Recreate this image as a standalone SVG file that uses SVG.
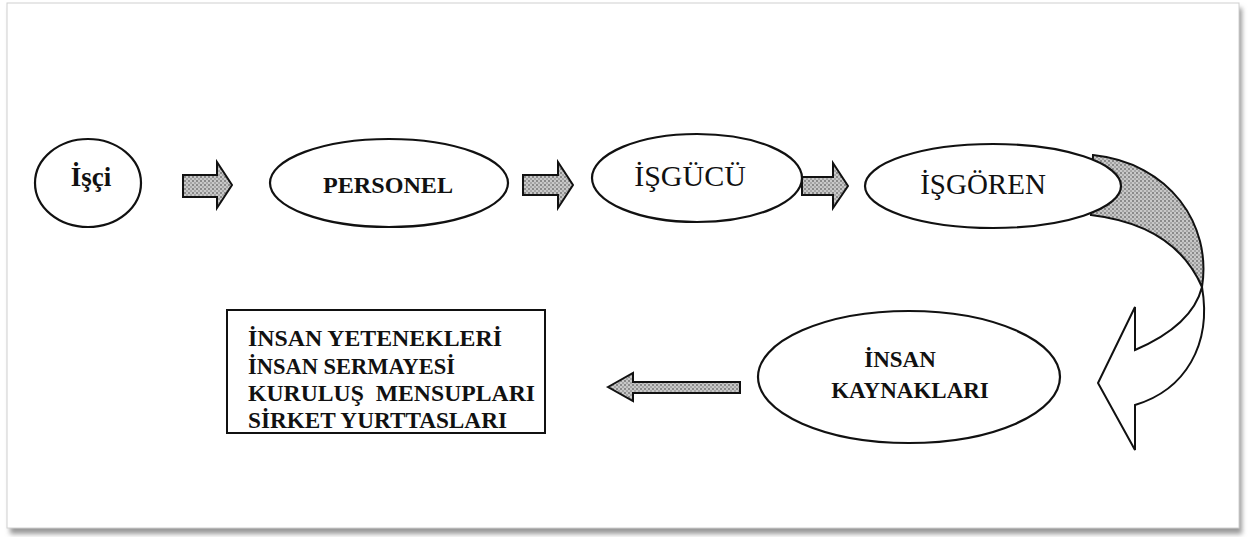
<svg xmlns="http://www.w3.org/2000/svg" width="1248" height="537" viewBox="0 0 1248 537">
<style>
.node{fill:#fff;stroke:#111;stroke-width:2.2}
.lbl{font-family:"Liberation Serif","Times New Roman",serif;fill:#111;text-anchor:middle}
.b{font-weight:bold}
.box{font-family:"Liberation Serif","Times New Roman",serif;font-weight:bold;fill:#111;font-size:23px}
.arr{fill:url(#stip);stroke:#111;stroke-width:2}
</style>
<defs>
<pattern id="stip" width="4" height="4" patternUnits="userSpaceOnUse">
<rect width="4" height="4" fill="#c8c8c8"/>
<rect width="2" height="2" fill="#8a8a8a"/>
<rect x="2" y="2" width="2" height="2" fill="#a5a5a5"/>
</pattern>
<filter id="sh" x="-2%" y="-2%" width="104%" height="106%">
<feGaussianBlur stdDeviation="2.5"/>
</filter>
</defs>
<rect width="1248" height="537" fill="#fff"/>
<rect x="10" y="8" width="1232" height="526" fill="#9a9a9a" filter="url(#sh)"/>
<rect x="7" y="3" width="1232" height="525" fill="#fff" stroke="#d0d0d0" stroke-width="1"/>

<g id="connectors">
<path class="arr" d="M183,175 L217,175 L217,162 L232,185 L217,208 L217,197 L183,197 Z"/>
<path class="arr" d="M523,175 L558,175 L558,162 L573,185 L558,208 L558,195 L523,195 Z"/>
<path class="arr" d="M802,177 L833,177 L833,163 L848,186 L833,208 L833,195 L802,195 Z"/>
<path class="arr" d="M1093,155 C1170,163 1212,225 1202,287 C1185,248 1150,222 1091,215 Z"/>
<path d="M1202,287 C1195,315 1170,335 1135,350 L1135,307 L1098,383 L1135,450 L1135,405 C1185,390 1212,345 1202,287 Z" fill="#fff" stroke="#111" stroke-width="2"/>
<path class="arr" d="M608,387 L633,373 L633,382 L740,382 L740,393 L633,393 L633,401 Z"/>
</g>

<g id="n-isci">
<ellipse class="node" cx="88" cy="183" rx="53" ry="44"/>
<text class="lbl b" x="91" y="186" font-size="27">İşçi</text>
</g>
<g id="n-personel">
<ellipse class="node" cx="389" cy="183" rx="119" ry="44"/>
<text class="lbl b" x="388" y="193" font-size="24" textLength="130" lengthAdjust="spacingAndGlyphs">PERSONEL</text>
</g>
<g id="n-isgucu">
<ellipse class="node" cx="697" cy="178" rx="105" ry="44"/>
<text class="lbl" x="690" y="186" font-size="30">İŞGÜCÜ</text>
</g>
<g id="n-isgoren">
<ellipse class="node" cx="993" cy="186" rx="128" ry="42"/>
<text class="lbl" x="983" y="194" font-size="29">İŞGÖREN</text>
</g>
<g id="n-insan-kaynaklari">
<ellipse class="node" cx="909" cy="377" rx="151" ry="66"/>
<text class="lbl b" x="900" y="367" font-size="23">İNSAN</text>
<text class="lbl b" x="910" y="398" font-size="23">KAYNAKLARI</text>
</g>
<g id="n-box">
<rect x="227" y="310" width="318" height="123" fill="#fff" stroke="#111" stroke-width="2"/>
<text class="box" x="248" y="346" textLength="254" lengthAdjust="spacingAndGlyphs">İNSAN YETENEKLERİ</text>
<text class="box" x="248" y="374" textLength="207" lengthAdjust="spacingAndGlyphs">İNSAN SERMAYESİ</text>
<text class="box" x="248" y="401" textLength="287" lengthAdjust="spacingAndGlyphs" xml:space="preserve">KURULUŞ  MENSUPLARI</text>
<text class="box" x="248" y="428" textLength="259" lengthAdjust="spacingAndGlyphs">SİRKET YURTTASLARI</text>
</g>
</svg>
